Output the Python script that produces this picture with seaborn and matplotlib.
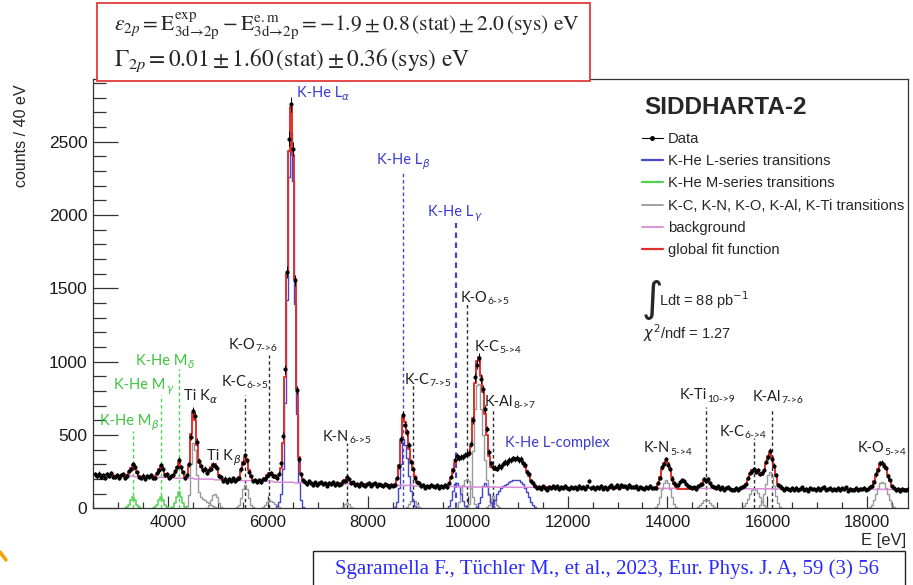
import numpy as np
import matplotlib
matplotlib.use("Agg")
import matplotlib.pyplot as plt
from matplotlib.lines import Line2D
from matplotlib.patches import Rectangle
from matplotlib.ticker import MultipleLocator
from matplotlib.transforms import offset_copy
import seaborn as sns

# ---------------------------------------------------------------- data
BIN_WIDTH = 40          # eV per bin
FIRST_BIN = 2540        # centre of the first bin (eV)
BAND_BINS = 10          # background level is given per 400 eV band

counts = [
    232, 218, 236, 214, 228, 209, 231, 222, 240, 215,
    212, 227, 205, 224, 231, 210, 221, 252, 268, 301,
    283, 246, 214, 208, 223, 201, 219, 212, 227, 206,
    209, 244, 259, 292, 271, 228, 231, 205, 218, 226,
    251, 279, 329, 281, 247, 205, 228, 301, 489, 667,
    631, 455, 322, 291, 258, 271, 243, 262, 268, 297,
    291, 278, 221, 213, 186, 203, 181, 199, 188, 207,
    183, 202, 209, 266, 311, 361, 327, 248, 219, 188,
    191, 176, 193, 180, 199, 197, 218, 231, 242, 219,
    221, 209, 236, 307, 496, 948, 1612, 2522, 2756, 2449,
    1555, 807, 334, 232, 191, 178, 164, 183, 170, 161,
    176, 158, 171, 180, 163, 172, 155, 174, 166, 181,
    159, 171, 162, 168, 185, 189, 213, 197, 171, 176,
    158, 168, 151, 170, 162, 149, 166, 173, 155, 164,
    171, 152, 163, 158, 149, 166, 157, 144, 161, 155,
    160, 209, 288, 470, 638, 571, 519, 431, 318, 271,
    209, 176, 171, 149, 158, 141, 155, 147, 162, 150,
    143, 156, 138, 152, 147, 159, 145, 172, 211, 259,
    331, 358, 342, 351, 349, 366, 371, 378, 441, 602,
    893, 978, 1028, 884, 812, 676, 541, 382, 307, 281,
    276, 268, 291, 279, 305, 316, 309, 330, 327, 341,
    334, 345, 329, 336, 311, 296, 248, 231, 186, 171,
    151, 139, 146, 133, 150, 141, 128, 147, 136, 152,
    138, 149, 131, 144, 137, 153, 140, 129, 145, 136,
    143, 132, 151, 138, 146, 135, 149, 187, 139, 144,
    131, 146, 138, 152, 135, 143, 129, 147, 156, 141,
    148, 157, 141, 162, 150, 155, 139, 158, 147, 144,
    143, 151, 135, 148, 139, 129, 146, 140, 152, 136,
    141, 139, 172, 204, 281, 304, 334, 296, 271, 203,
    172, 158, 161, 178, 196, 183, 169, 152, 147, 139,
    142, 131, 150, 162, 168, 197, 189, 201, 170, 149,
    146, 137, 152, 131, 143, 128, 139, 147, 133, 126,
    128, 140, 124, 137, 145, 151, 163, 207, 240, 251,
    268, 247, 262, 233, 241, 259, 318, 349, 391, 337,
    291, 226, 162, 149, 138, 126, 141, 133, 122, 137,
    128, 139, 124, 135, 142, 127, 133, 120, 138, 129,
    135, 122, 141, 128, 137, 144, 126, 132, 139, 123,
    131, 127, 140, 124, 136, 129, 142, 121, 133, 128,
    126, 137, 124, 133, 129, 141, 127, 135, 146, 152,
    179, 231, 262, 306, 312, 289, 275, 218, 190, 149,
    139, 124, 131, 118, 135, 127, 122, 130,
]

background_levels = [
    224, 220, 216, 211, 205, 199, 194, 189, 184, 178,
    173, 169, 166, 163, 160, 156, 152, 149, 147, 145,
    144, 143, 142, 141, 140, 139, 138, 137, 136, 135,
    135, 134, 133, 133, 132, 131, 131, 130, 130, 129, 129,
]

# fitted line shapes: (centre of first bin, counts per bin)
he_l_alpha = (6180, [15, 40, 100, 270, 720, 1420, 2260, 2560, 2230, 1390, 640, 180, 60, 12])
he_l_beta = (8540, [10, 45, 140, 300, 470, 430, 340, 220, 120, 50, 15])
he_l_gamma = (9620, [15, 55, 120, 165, 175, 150, 100, 50, 15])
he_l_delta = (10180, [10, 35, 80, 150, 170, 150, 95, 45, 15])
he_l_complex = (10500, [30, 60, 95, 120, 140, 150, 160, 168, 178, 188, 193,
                        195, 195, 190, 180, 165, 140, 110, 75, 45, 20, 6])

he_m_beta = (3180, [6, 25, 55, 75, 55, 25, 6])
he_m_gamma = (3740, [6, 25, 55, 75, 55, 25, 6])
he_m_delta = (4100, [8, 35, 80, 110, 80, 35, 8])

ti_k_alpha = (4380, [15, 90, 300, 445, 400, 230, 110, 80, 65, 55, 45, 35, 25, 15, 8])
ti_k_beta = (4780, [5, 20, 55, 90, 100, 75, 35, 10])
kc_6_5 = (5380, [6, 25, 70, 130, 160, 130, 70, 25, 6])
ko_7_6 = (5900, [8, 20, 40, 55, 50, 40, 30, 20, 10])
kn_6_5 = (7460, [4, 12, 26, 38, 26, 12, 4])
kc_7_5 = (8740, [4, 12, 30, 50, 58, 50, 30, 12, 4])
ko_6_5 = (9780, [10, 40, 100, 160, 195, 200, 185, 140, 80, 30, 8])
kc_5_4 = (9980, [8, 30, 140, 390, 680, 840, 850, 680, 500, 330, 195, 90, 35, 10])
kal_8_7 = (10380, [8, 25, 60, 85, 60, 25, 8])
kn_5_4 = (13780, [10, 30, 75, 130, 175, 190, 175, 130, 75, 30, 10])
kti_10_9 = (14620, [8, 20, 38, 55, 60, 55, 38, 20, 8])
kc_6_4 = (15500, [5, 15, 35, 65, 100, 125, 130, 125, 105, 75, 45, 20, 8])
kal_7_6 = (15860, [20, 50, 100, 165, 225, 245, 215, 150, 85, 35, 10])
ko_5_4 = (18060, [8, 25, 55, 95, 140, 170, 180, 170, 140, 95, 55, 25, 8])

l_series = [he_l_alpha, he_l_beta, he_l_gamma, he_l_delta, he_l_complex]
m_series = [he_m_beta, he_m_gamma, he_m_delta]
other_lines = [ti_k_alpha, ti_k_beta, kc_6_5, ko_7_6, kn_6_5, kc_7_5, ko_6_5,
               kc_5_4, kal_8_7, kn_5_4, kti_10_9, kc_6_4, kal_7_6, ko_5_4]

# dashed markers: energy (eV), top (counts), colour key
marker_energy = [3293, 3854, 4214, 5548, 6022, 7578, 8905, 9990, 10500,
                 14780, 15737, 16086, 8711, 9760]
marker_top = [529, 773, 948, 773, 1046, 448, 841, 1409, 682,
              693, 477, 682, 2285, 1944]
marker_kind = ["M", "M", "M", "K", "K", "K", "K", "K", "K",
               "K", "K", "K", "L", "L"]

# transition labels: name, subscript, energy, counts, colour key
label_main = ["K-He M", "K-He M", "K-He M", "Ti K", "Ti K", "K-C", "K-O", "K-N",
              "K-He L", "K-He L", "K-He L", "K-O", "K-C", "K-C", "K-Al",
              "K-He L-complex", "K-N", "K-Ti", "K-C", "K-Al", "K-O"]
label_sub = ["δ", "γ", "β", "α", "β",
             "6->5", "7->6", "6->5", "α", "β", "γ",
             "6->5", "5->4", "7->5", "8->7", "", "5->4", "10->9", "6->4",
             "7->6", "5->4"]
label_energy = [3940, 3500, 3219, 4641, 5101, 5542, 5702, 7584, 7100, 8705, 9726,
                10346, 10607, 9205, 10847, 11788, 14010, 14791, 15511, 16212, 18294]
label_counts = [1005, 841, 596, 767, 357, 862, 1115, 487, 2833, 2376, 2022,
                1434, 1101, 876, 726, 444, 409, 771, 520, 761, 409]
label_kind = ["M", "M", "M", "K", "K", "K", "K", "K", "L", "L", "L",
              "K", "K", "K", "K", "L", "K", "K", "K", "K", "K"]

# ---------------------------------------------------------------- style
sns.set_style("ticks")
plt.rcParams["font.family"] = ["Liberation Sans", "DejaVu Sans"]
plt.rcParams["mathtext.fontset"] = "dejavusans"

BLUE = "#4646c8"
GREEN = "#4fd24f"
GREY = "#9a9a9a"
PINK = "#d98ad9"
RED = "#e0302c"
TXT_BLUE = "#3a3ad2"
TXT_GREEN = "#3cc43c"
TXT_BLACK = "#1e1e1e"
kind_line_colour = {"L": BLUE, "M": GREEN, "K": "#2b2b2b"}
kind_text_colour = {"L": TXT_BLUE, "M": TXT_GREEN, "K": TXT_BLACK}

W, H = 913, 585
fig = plt.figure(figsize=(W / 100, H / 100), dpi=100)
fig.patch.set_facecolor("white")


def fx(px):
    return px / W


def fy(py):
    return 1 - py / H


ax = fig.add_axes([fx(93), fy(508.3), fx(908) - fx(93), fy(79) - fy(508.3)])

energy = FIRST_BIN + BIN_WIDTH * np.arange(len(counts))
counts_arr = np.asarray(counts, dtype=float)
background = np.repeat(background_levels, BAND_BINS)[: len(counts)].astype(float)


def on_grid(shape):
    first, values = shape
    start = (first - FIRST_BIN) // BIN_WIDTH
    y = np.zeros(len(counts))
    y[start:start + len(values)] = values
    return y, start, len(values)


def draw_component(shape, colour, lw):
    y, start, n = on_grid(shape)
    lo, hi = max(start - 1, 0), min(start + n + 1, len(counts))
    sns.lineplot(x=energy[lo:hi], y=y[lo:hi], ax=ax, color=colour, lw=lw,
                 drawstyle="steps-mid", estimator=None, sort=False, zorder=2)


fit = background.copy()
for shp in other_lines:
    draw_component(shp, GREY, 1.0)
    fit += on_grid(shp)[0]
for shp in m_series:
    draw_component(shp, GREEN, 1.1)
    fit += on_grid(shp)[0]
for shp in l_series:
    draw_component(shp, BLUE, 1.0)
    fit += on_grid(shp)[0]

# dashed transition markers
for e, top, k in zip(marker_energy, marker_top, marker_kind):
    lw = 1.6 if (k == "L" and top < 2000) else 1.0
    ax.vlines(e, 0, top, colors=kind_line_colour[k], linestyles=(0, (2.5, 2)),
              lw=lw, zorder=1.5)

sns.lineplot(x=energy, y=background, ax=ax, color=PINK, lw=1.1,
             estimator=None, sort=False, zorder=2.5)
sns.lineplot(x=energy, y=fit, ax=ax, color=RED, lw=1.4, drawstyle="steps-mid",
             estimator=None, sort=False, zorder=3)

ax.errorbar(energy, counts_arr, yerr=np.sqrt(counts_arr), xerr=BIN_WIDTH / 2,
            fmt="none", ecolor="black", elinewidth=0.7, zorder=4)
sns.scatterplot(x=energy, y=counts_arr, ax=ax, color="black", s=9,
                linewidth=0, zorder=5)

# ---------------------------------------------------------------- axes
ax.set_xlim(2500, 18815)
ax.set_ylim(0, 2928)
ax.xaxis.set_major_locator(MultipleLocator(2000))
ax.xaxis.set_minor_locator(MultipleLocator(500))
ax.yaxis.set_major_locator(MultipleLocator(500))
ax.yaxis.set_minor_locator(MultipleLocator(100))
ax.tick_params(axis="both", which="both", direction="in", colors="#333333",
               labelcolor="#1a1a1a", width=0.9)
ax.tick_params(axis="y", which="major", length=18, pad=4, labelsize=12.5)
ax.tick_params(axis="y", which="minor", length=9)
ax.tick_params(axis="x", which="major", length=9, pad=5, labelsize=12)
ax.tick_params(axis="x", which="minor", length=4.5)
for sp in ax.spines.values():
    sp.set_color("#333333")
    sp.set_linewidth(0.9)
ax.set_xlabel("")
ax.set_ylabel("")

# transition labels: name followed by a lowered subscript, centred as a group
renderer = fig.canvas.get_renderer()
for main, sub, e, c, k in zip(label_main, label_sub, label_energy,
                              label_counts, label_kind):
    col = kind_text_colour[k]
    tm = ax.text(e, c, main, color=col, fontsize=10.5, fontfamily="Lato",
                 ha="left", va="center", zorder=6)
    width = tm.get_window_extent(renderer).width
    if sub:
        greek = sub in "αβγδ"
        ts = ax.annotate(sub, xy=(1, 0.22), xycoords=tm,
                         xytext=(0.15, -0.4 if greek else 0),
                         textcoords="offset points", color=col, fontsize=7.5,
                         fontfamily=["DejaVu Sans"] if greek else ["Lato"],
                         fontstyle="italic" if greek else "normal",
                         ha="left", va="center", zorder=6)
        width += ts.get_window_extent(renderer).width
    tm.set_transform(offset_copy(ax.transData, fig=fig, x=-width / 2, y=0,
                                 units="dots"))

fig.text(fx(906), fy(541), "E [eV]", ha="right", va="center", fontsize=12)
fig.text(fx(22), fy(136), "counts / 40 eV", rotation=90, ha="center",
         va="center", fontsize=11.5)

# legend block
fig.text(fx(644), fy(107), "SIDDHARTA-2", fontsize=17.5, fontweight="bold",
         ha="left", va="center")
handles = [
    Line2D([], [], color="black", marker="o", markersize=2.5, lw=0.8),
    Line2D([], [], color=BLUE, lw=1.6),
    Line2D([], [], color=GREEN, lw=1.6),
    Line2D([], [], color=GREY, lw=1.3),
    Line2D([], [], color=PINK, lw=1.3),
    Line2D([], [], color=RED, lw=1.6),
]
names = ["Data", "K-He L-series transitions", "K-He M-series transitions",
         "K-C, K-N, K-O, K-Al, K-Ti transitions", "background",
         "global fit function"]
ax.legend(handles, names, loc="upper left", bbox_to_anchor=(fx(642), fy(132)),
          bbox_transform=fig.transFigure, frameon=False, fontsize=10.6,
          handlelength=1.4, handletextpad=0.35, labelspacing=0.56,
          borderaxespad=0, borderpad=0)

fig.text(fx(641), fy(299), r"$\int$", fontsize=21, ha="left", va="center")
fig.text(fx(659), fy(300), r"Ldt = 88 pb$^{-1}$", fontsize=10.5, ha="left",
         va="center")
fig.text(fx(643), fy(333), r"$\chi^2$/ndf = 1.27", fontsize=10.5, ha="left",
         va="center")

# result box
fig.add_artist(Rectangle((fx(97), fy(81)), fx(590) - fx(97), fy(3) - fy(81),
                         transform=fig.transFigure, facecolor="white",
                         edgecolor="#e23a3a", lw=1.3, zorder=10))
fig.text(fx(114), fy(26),
         r"$\varepsilon_{2p} = \mathrm{E}^{\mathrm{exp}}_{\mathrm{3d→2p}}"
         r" - \mathrm{E}^{\mathrm{e.m}}_{\mathrm{3d→2p}}"
         r" = -1.9 \pm 0.8\,(\mathrm{stat}) \pm 2.0\,(\mathrm{sys})\ \mathrm{eV}$",
         math_fontfamily="stix", fontsize=15.5, ha="left", va="center", zorder=11)
fig.text(fx(114), fy(60),
         r"$\Gamma_{2p} = 0.01 \pm 1.60\,(\mathrm{stat}) \pm 0.36\,(\mathrm{sys})\ \mathrm{eV}$",
         math_fontfamily="stix", fontsize=16.8, ha="left", va="center", zorder=11)

# reference box
fig.add_artist(Rectangle((fx(313), fy(600)), fx(905) - fx(313), fy(551) - fy(600),
                         transform=fig.transFigure, facecolor="white",
                         edgecolor="#222222", lw=1.0, zorder=10))
fig.text(fx(607), fy(569),
         "Sgaramella F., Tüchler M., et al., 2023, Eur. Phys. J. A, 59 (3) 56",
         fontfamily="Liberation Serif", fontsize=15, color="#2b2bff",
         ha="center", va="center", zorder=11)

fig.add_artist(Line2D([fx(0), fx(6)], [fy(552), fy(560)], transform=fig.transFigure,
                      color="#f5a000", lw=2.5))

fig.savefig("out.png", dpi=100)
